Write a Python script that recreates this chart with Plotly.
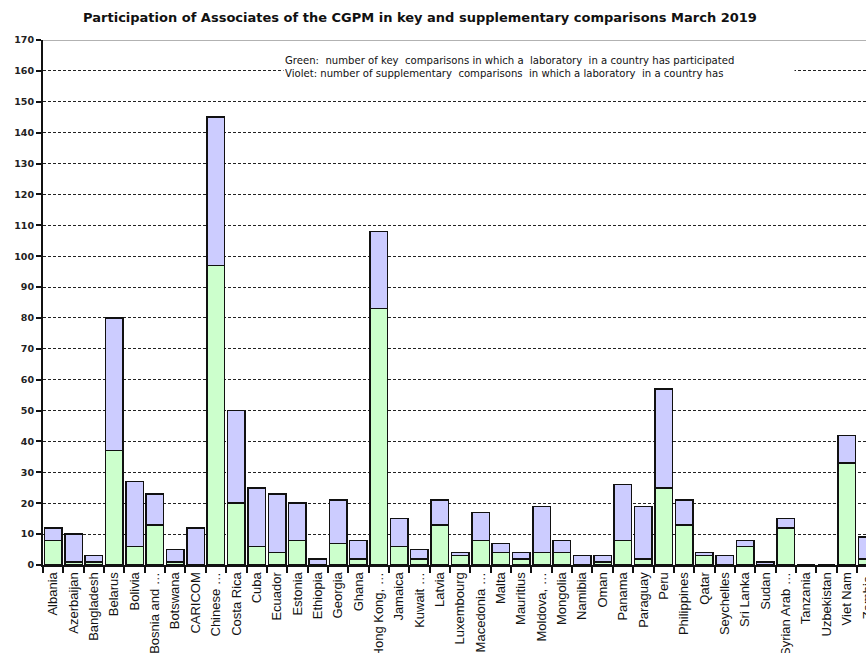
import plotly.graph_objects as go

countries = ["Albania", "Azerbaijan", "Bangladesh", "Belarus", "Bolivia", "Bosnia and …",
             "Botswana", "CARICOM", "Chinese …", "Costa Rica", "Cuba", "Ecuador", "Estonia",
             "Ethiopia", "Georgia", "Ghana", "Hong Kong, …", "Jamaica", "Kuwait …", "Latvia",
             "Luxembourg", "Macedonia …", "Malta", "Mauritius", "Moldova, …", "Mongolia",
             "Namibia", "Oman", "Panama", "Paraguay", "Peru", "Philippines", "Qatar",
             "Seychelles", "Sri Lanka", "Sudan", "Syrian Arab …", "Tanzania", "Uzbekistan",
             "Viet Nam", "Zambia"]
key_comparisons = [8, 1, 1, 37, 6, 13, 1, 0, 97, 20, 6, 4, 8, 0, 7, 2, 83, 6, 2, 13,
                   3, 8, 4, 2, 4, 4, 0, 1, 8, 2, 25, 13, 3, 0, 6, 0, 12, 0, 0, 33, 2]
total_comparisons = [12, 10, 3, 80, 27, 23, 5, 12, 145, 50, 25, 23, 20, 2, 21, 8, 108, 15, 5, 21,
                     4, 17, 7, 4, 19, 8, 3, 3, 26, 19, 57, 21, 4, 3, 8, 1, 15, 0, 0, 42, 9]
supplementary_comparisons = [t - k for t, k in zip(total_comparisons, key_comparisons)]
y_ticks = list(range(0, 171, 10))

W, H = 866, 653
ML, MT = 43, 40
MB = H - 565.5
cat_px = 20.35
x_end = -0.5 + (W - ML) / cat_px

fig = go.Figure()
fig.add_trace(go.Bar(x=countries, y=key_comparisons,
                     marker=dict(color="#ccffcc", line=dict(color="#111", width=1.5)), name="Key"))
fig.add_trace(go.Bar(x=countries, y=supplementary_comparisons,
                     marker=dict(color="#ccccff", line=dict(color="#111", width=1.5)), name="Supplementary"))

fig.update_layout(
    width=W, height=H, barmode="stack", bargap=0.14, showlegend=False,
    plot_bgcolor="white", paper_bgcolor="white",
    margin=dict(l=ML, r=0, t=MT, b=MB, pad=0, autoexpand=False),
    title=dict(text="Participation of Associates of the CGPM in key and supplementary comparisons March 2019",
               x=420 / W, xanchor="center", y=1 - 17 / H, yanchor="middle",
               font=dict(family="DejaVu Sans", size=13, color="#111", weight="bold")),
)
fig.update_xaxes(type="category", range=[-0.5, x_end], tickson="boundaries", ticks="outside", ticklen=6,
                 tickwidth=1.5, tickcolor="#111", showline=True, linecolor="#111", linewidth=2,
                 tickangle=-90, tickfont=dict(family="Liberation Sans", size=13, color="#111"),
                 showgrid=False, automargin=False)
fig.update_yaxes(range=[0, 170], tickvals=y_ticks, ticks="outside", ticklen=5, tickwidth=1.5,
                 tickcolor="#111", showline=True, linecolor="#111", linewidth=2,
                 tickfont=dict(family="DejaVu Sans", size=9.5, color="#222", weight="bold"),
                 showgrid=True, gridcolor="#222", gridwidth=1.3, griddash="3px,2px", zeroline=False,
                 automargin=False)

fig.add_shape(type="line", xref="paper", yref="y", x0=0, x1=1, y0=170, y1=170,
              line=dict(color="#999", width=1.5), layer="above")

fig.add_annotation(xref="paper", yref="paper", x=(283 - ML) / (W - ML), y=1 - (53 - MT) / (H - MT - MB),
                   xanchor="left", yanchor="top", align="left", showarrow=False, bgcolor="white",
                   width=508, borderpad=1,
                   text="Green:  number of key  comparisons in which a  laboratory  in a country has participated<br>"
                        "Violet: number of supplementary  comparisons  in which a laboratory  in a country has",
                   font=dict(family="DejaVu Sans", size=10.1, color="#111"))

# last category label sits just past the window edge (plot continues beyond the window)
last_idx = len(countries) - 1
fig.add_annotation(xref="paper", yref="paper", x=(last_idx + 0.5) / (x_end + 0.5), y=0,
                   xanchor="center", yanchor="top", yshift=-8, textangle=-90,
                   showarrow=False, text=countries[-1],
                   font=dict(family="Liberation Sans", size=13, color="#111"))

fig.write_html("out.html", config={"displayModeBar": False},
               post_script="document.body.style.margin='0';document.body.style.overflow='hidden';")
